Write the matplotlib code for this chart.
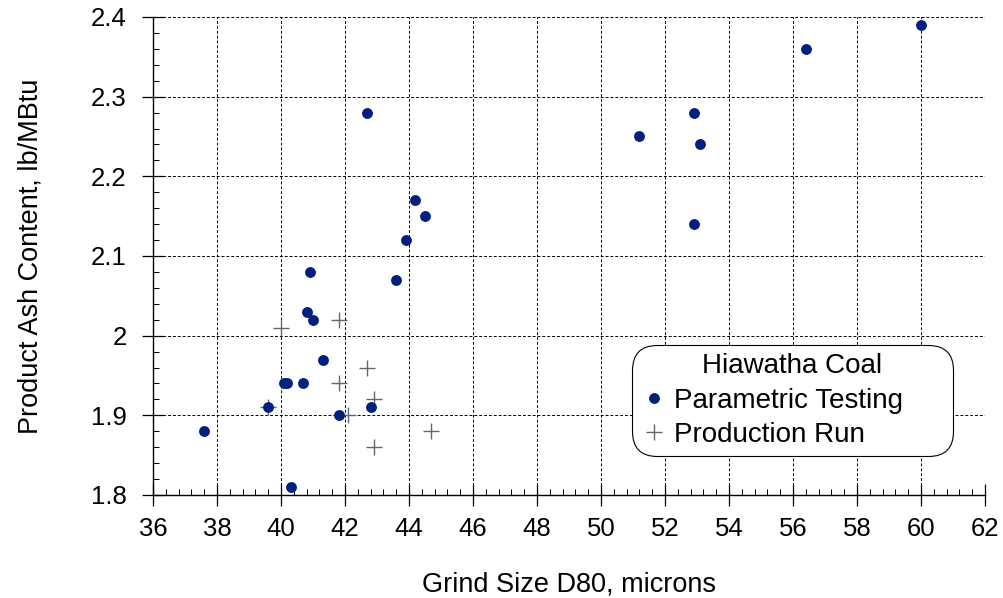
import matplotlib
matplotlib.use("Agg")
import matplotlib.pyplot as plt
from matplotlib.ticker import MultipleLocator

plt.rcParams['font.family'] = ['Liberation Sans', 'DejaVu Sans']

# Parametric Testing
param_x = [37.6, 39.6, 40.1, 40.2, 40.7, 40.3, 40.8, 41.0, 40.9, 41.3, 41.8, 42.8,
           42.7, 43.6, 43.9, 44.2, 44.5, 51.2, 52.9, 53.1, 52.9, 56.4, 60.0]
param_y = [1.88, 1.91, 1.94, 1.94, 1.94, 1.81, 2.03, 2.02, 2.08, 1.97, 1.90, 1.91,
           2.28, 2.07, 2.12, 2.17, 2.15, 2.25, 2.28, 2.24, 2.14, 2.36, 2.39]

# Production Run
prod_x = [39.6, 40.0, 41.8, 41.8, 42.1, 42.7, 42.9, 42.9, 44.7]
prod_y = [1.91, 2.01, 2.02, 1.94, 1.90, 1.96, 1.92, 1.86, 1.88]

x_ticks = [36, 38, 40, 42, 44, 46, 48, 50, 52, 54, 56, 58, 60, 62]
y_ticks = [1.8, 1.9, 2.0, 2.1, 2.2, 2.3, 2.4]
y_tick_labels = ['1.8', '1.9', '2', '2.1', '2.2', '2.3', '2.4']

fig = plt.figure(figsize=(10.04, 5.98), dpi=100)
ax = fig.add_axes([153/1004, 1-495/598, (985-153)/1004, (495-17)/598])

ax.set_xlim(36, 62)
ax.set_ylim(1.8, 2.4)
ax.set_xticks(x_ticks)
ax.set_xticklabels([str(t) for t in x_ticks])
ax.set_yticks(y_ticks)
ax.set_yticklabels(y_tick_labels)
ax.xaxis.set_minor_locator(MultipleLocator(0.4))
ax.yaxis.set_minor_locator(MultipleLocator(0.02))

ax.grid(True, which='major', color='black', linestyle=(0, (3, 2)), linewidth=0.7, zorder=0)
ax.set_axisbelow(True)

for s in ['top', 'right']:
    ax.spines[s].set_visible(False)
for s in ['left', 'bottom']:
    ax.spines[s].set_linewidth(1.0)

ax.tick_params(axis='both', which='major', direction='inout', length=16, width=0.9,
               labelsize=18.5)
ax.tick_params(axis='x', which='major', pad=8)
ax.tick_params(axis='y', which='major', pad=11)
ax.tick_params(axis='both', which='minor', direction='in', length=4.5, width=0.7)

ax.plot(param_x, param_y, linestyle='none', marker='o', markersize=6.8,
        color='#002080', label='Parametric Testing', zorder=3)
ax.plot(prod_x, prod_y, linestyle='none', marker='+', markersize=12,
        markeredgewidth=1.0, color='#666666', label='Production Run', zorder=2)

ax.set_xlabel('Grind Size D80, microns', fontsize=19.5, labelpad=22)
ax.set_ylabel('Product Ash Content, lb/MBtu', fontsize=19.5, labelpad=34)

x0 = (632 - 153) / 832
x1 = (953 - 153) / 832
y1 = (495 - 345) / 478
y0 = (495 - 458) / 478
leg = ax.legend(title='Hiawatha Coal', loc='upper left',
                bbox_to_anchor=(x0, y0, x1 - x0, y1 - y0), mode='expand',
                fontsize=20, title_fontsize=20, frameon=True, fancybox=True,
                edgecolor='black', framealpha=1, handletextpad=0.2,
                handlelength=1.0, borderpad=0.3, labelspacing=0.3,
                borderaxespad=0)
leg.get_frame().set_linewidth(0.8)
leg.get_frame().set_boxstyle('round', pad=0.0, rounding_size=0.9)

fig.savefig('out.png', dpi=100)
